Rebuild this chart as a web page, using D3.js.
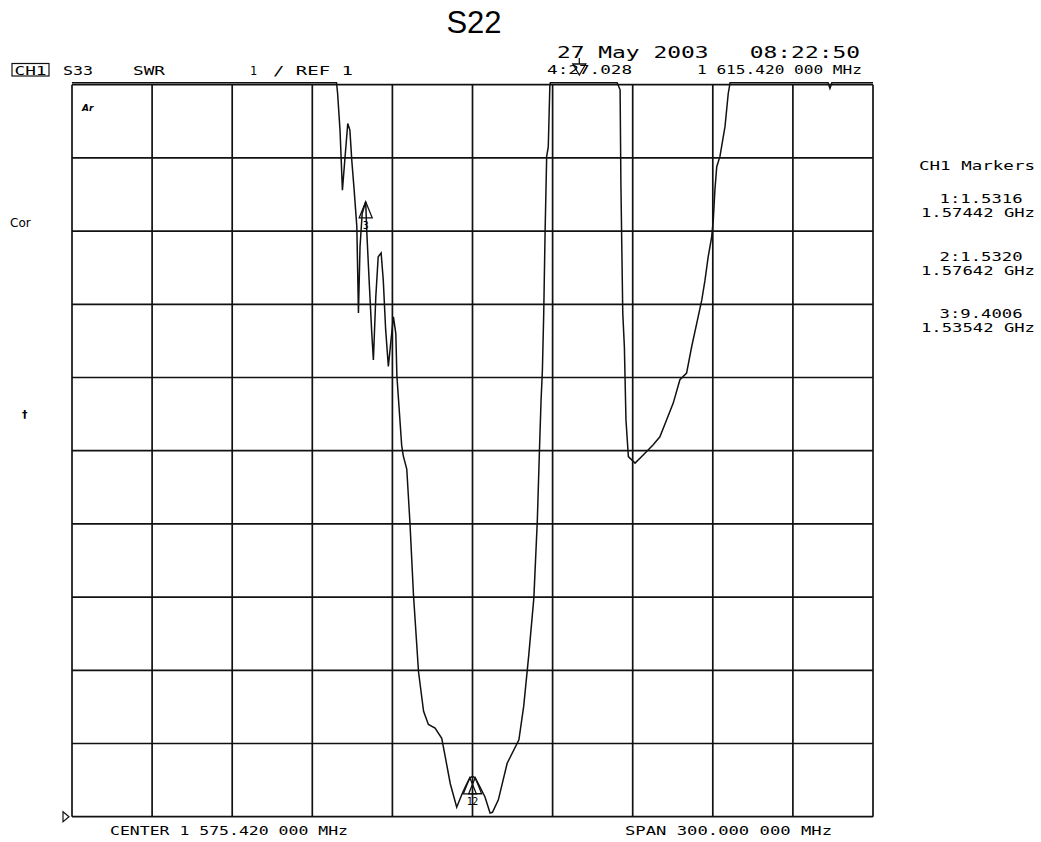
<!DOCTYPE html>
<html>
<head>
<meta charset="utf-8">
<script src="https://cdn.jsdelivr.net/npm/d3@7"></script>
<style>
  body { margin: 0; background: #fff; }
  svg { display: block; }
  .mono { font-family: "DejaVu Sans Mono", monospace; fill: #000; white-space: pre; }
</style>
</head>
<body>
<div id="chart"></div>
<script>
// trace: frequency in MHz, SWR (values above 11 are off the top of the screen)
var freqMHz = [
  1425.4, 1524.5, 1524.9, 1525.8, 1526.7, 1527.7, 1528.7, 1529.5, 1530.2, 1531.1,
  1532.1, 1532.7, 1533.3, 1534.1, 1535.42, 1535.8, 1536.7, 1537.7, 1538.3, 1539.2,
  1540.1, 1541.2, 1542.0, 1542.9, 1543.9, 1544.9, 1545.8, 1546.7, 1547.1, 1548.9,
  1549.5, 1550.8, 1552.0, 1553.3, 1555.2, 1557.1, 1558.9, 1561.4, 1563.9, 1565.2,
  1567.1, 1569.5, 1571.5, 1573.0, 1574.42, 1575.4, 1576.42, 1577.9, 1580.1, 1582.0,
  1582.9, 1585.1, 1588.4, 1592.8, 1594.6, 1596.5, 1598.4, 1599.7, 1600.5, 1601.1,
  1601.6, 1602.1, 1602.6, 1603.2, 1603.8, 1604.4, 1604.6, 1629.6, 1630.7, 1631.0,
  1631.7, 1632.3, 1632.9, 1633.8, 1636.3, 1638.8, 1643.1, 1645.6, 1648.1, 1650.6,
  1653.1, 1655.6, 1657.5, 1659.4, 1661.3, 1662.5, 1663.7, 1665.0, 1665.6, 1666.2,
  1666.9, 1668.1, 1670.0, 1671.2, 1671.9, 1708.6, 1709.3, 1710.0, 1725.42
];
var swr = [
  12, 12, 10.88, 10.38, 9.56, 10.02, 10.47, 10.38, 9.97, 9.56,
  9.06, 7.88, 8.79, 9.24, 9.40, 9.01, 8.33, 7.60, 7.24, 8.10,
  8.65, 8.70, 8.33, 7.65, 7.15, 7.51, 7.83, 7.60, 7.02, 6.07,
  5.93, 5.75, 5.01, 4.04, 2.98, 2.44, 2.26, 2.21, 2.07, 1.82,
  1.45, 1.13, 1.31, 1.43, 1.53, 1.55, 1.53, 1.43, 1.27, 1.05,
  1.06, 1.23, 1.73, 2.05, 2.51, 3.21, 3.99, 5.05, 6.01, 6.69,
  7.10, 7.88, 8.97, 10.02, 10.15, 11.0, 12, 12, 10.93, 9.65,
  7.88, 7.42, 6.42, 5.92, 5.83, 5.92, 6.08, 6.19, 6.42, 6.65,
  6.97, 7.06, 7.42, 7.74, 8.06, 8.33, 8.65, 8.92, 9.15, 9.56,
  9.88, 10.02, 10.43, 10.88, 12, 12, 10.95, 12, 12
];

var markerNum = ["1", "2", "3"];
var markerFreq = [1574.42, 1576.42, 1535.42];
var markerSwr = [1.5316, 1.5320, 9.4006];
var markerFreqGHz = ["1.57442 GHz", "1.57642 GHz", "1.53542 GHz"];
var markerValue = ["1:1.5316", "2:1.5320", "3:9.4006"];
var offMarkerFreq = 1615.42;   // marker 4, value 27.028 is off screen

var centerMHz = 1575.42, spanMHz = 300;
var refValue = 1, perDiv = 1, divisions = 10;

var width = 1041, height = 842;
var svg = d3.select("#chart").append("svg").attr("width", width).attr("height", height);

var x = d3.scaleLinear()
  .domain([centerMHz - spanMHz / 2, centerMHz + spanMHz / 2])
  .range([72, 873]);
var y = d3.scaleLinear()
  .domain([refValue, refValue + perDiv * divisions])
  .range([816.7, 84.7]);

// grid
var g = svg.append("g");
var xTicks = d3.range(0, divisions + 1).map(i => x.domain()[0] + i * spanMHz / divisions);
var yTicks = d3.range(0, divisions + 1).map(i => refValue + i * perDiv);
g.selectAll(".vl").data(xTicks).join("line")
  .attr("x1", d => x(d)).attr("x2", d => x(d))
  .attr("y1", y.range()[1]).attr("y2", y.range()[0])
  .attr("stroke", "#111").attr("stroke-width", 1.7);
g.selectAll(".hl").data(yTicks).join("line")
  .attr("y1", d => y(d)).attr("y2", d => y(d))
  .attr("x1", x.range()[0]).attr("x2", x.range()[1])
  .attr("stroke", "#111").attr("stroke-width", 1.7);

// trace, clamped at top of screen
var topVal = y.invert(y.range()[1] - 2);
var line = d3.line()
  .x((d, i) => x(freqMHz[i]))
  .y((d, i) => y(Math.min(swr[i], topVal)));
svg.append("path")
  .datum(swr)
  .attr("d", line)
  .attr("fill", "none")
  .attr("stroke", "#111")
  .attr("stroke-width", 1.5);

// markers (triangle with apex on the trace)
markerFreq.forEach((f, i) => {
  var px = x(f), py = y(markerSwr[i]);
  svg.append("path")
    .attr("d", `M${px},${py} L${px - 6.5},${py + 16} L${px + 6.5},${py + 16} Z`)
    .attr("fill", "none").attr("stroke", "#111").attr("stroke-width", 1.3);
  svg.append("text").attr("class", "mono")
    .attr("x", px).attr("y", py + 27)
    .attr("text-anchor", "middle")
    .attr("font-size", 10)
    .text(markerNum[i]);
});

// off-screen marker 4 at top
var m4 = x(offMarkerFreq);
svg.append("path")
  .attr("d", `M${m4 - 6.5},64 L${m4 + 6.5},64 L${m4},75 Z M${m4},58 L${m4},64`)
  .attr("fill", "none").attr("stroke", "#111").attr("stroke-width", 1.3);

// reference position marker
svg.append("path")
  .attr("d", `M63,${y(refValue) - 5} L69,${y(refValue)} L63,${y(refValue) + 5} Z`)
  .attr("fill", "none").attr("stroke", "#111").attr("stroke-width", 1.2);

// title
svg.append("text")
  .attr("x", 474).attr("y", 33)
  .attr("text-anchor", "middle")
  .attr("font-family", "Liberation Sans, Arial, sans-serif")
  .attr("font-size", 31)
  .text("S22");

function mono(txt, x0, y0, size, len, anchor) {
  return svg.append("text").attr("class", "mono")
    .attr("x", x0).attr("y", y0)
    .attr("font-size", size)
    .attr("text-anchor", anchor || "start")
    .attr("textLength", len)
    .attr("lengthAdjust", "spacingAndGlyphs")
    .text(txt);
}

// header
svg.append("rect").attr("x", 12).attr("y", 63.5).attr("width", 37).attr("height", 12.5)
  .attr("fill", "none").attr("stroke", "#111").attr("stroke-width", 1.2);
mono("CH1", 14.5, 74.5, 13, 32);
mono("S33", 63, 75, 13, 30);
mono("SWR", 133, 75, 13, 32);
mono("1", 250, 75, 13, 7);
mono("/ REF 1", 273, 75, 13, 80);
mono("27 May 2003   08:22:50", 557, 58, 15, 303);
mono("4:27.028", 547, 74, 12, 85);
mono("1 615.420 000 MHz", 697, 74, 12, 165);

// footer
mono("CENTER 1 575.420 000 MHz", 110, 835, 12, 238);
mono("SPAN 300.000 000 MHz", 625, 835, 12, 207);

// marker table
mono("CH1 Markers", 977, 170, 12, 116, "middle");
markerValue.forEach((v, i) => {
  var top = 203 + i * 57.5;
  mono(v, 981, top, 12, 83, "middle");
  mono(markerFreqGHz[i], 978, top + 14, 12, 114, "middle");
});

// side annotations
svg.append("text").attr("x", 10).attr("y", 227)
  .attr("font-family", "DejaVu Sans, sans-serif").attr("font-size", 12).text("Cor");
svg.append("text").attr("x", 22).attr("y", 418)
  .attr("font-family", "DejaVu Sans, sans-serif").attr("font-size", 11)
  .attr("font-weight", "bold").text("†");
svg.append("text").attr("x", 82).attr("y", 111)
  .attr("font-family", "DejaVu Sans, sans-serif").attr("font-size", 9)
  .attr("font-style", "italic").attr("font-weight", "bold").text("Ar");
</script>
</body>
</html>
